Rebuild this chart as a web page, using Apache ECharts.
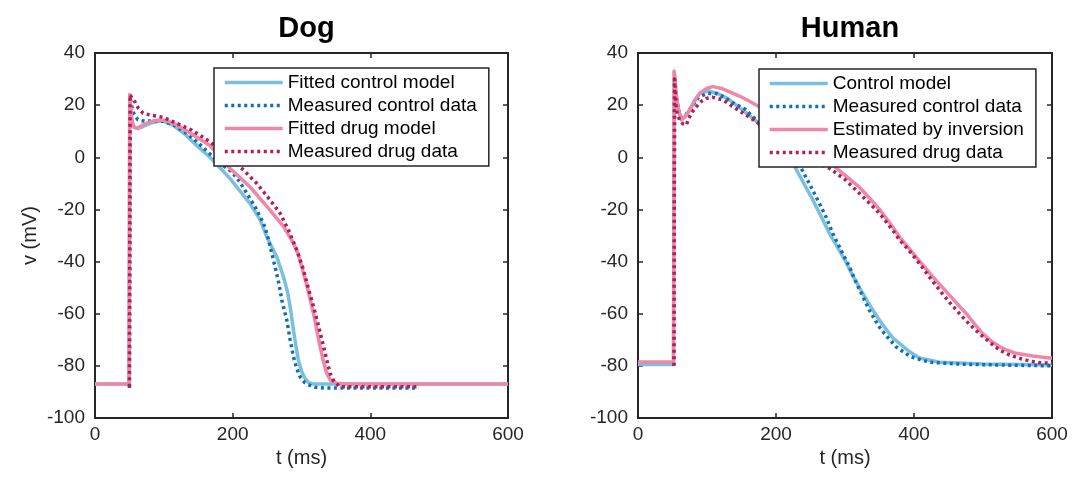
<!DOCTYPE html>
<html>
<head>
<meta charset="utf-8">
<script src="https://cdn.jsdelivr.net/npm/echarts@6/dist/echarts.min.js"></script>
<style>
  html, body { margin: 0; padding: 0; background: #fff; }
  #chart { width: 1084px; height: 477px; }
</style>
</head>
<body>
<div id="chart"></div>
<script>
// panel titles and legend labels
const panelTitles = ["Dog", "Human"];
const dogNames = ["Fitted control model", "Measured control data", "Fitted drug model", "Measured drug data"];
const humanNames = ["Control model", "Measured control data", "Estimated by inversion", "Measured drug data"];
const xTicks = [0, 200, 400, 600];
const yTicks = [-100, -80, -60, -40, -20, 0, 20, 40];

// Dog traces, [t (ms), v (mV)]
const dogFittedControl = [[0,-87],[49.5,-87],[50.5,24],[52,18],[54,13.5],[57,11.5],[62,11],[70,11.8],[80,13],[92,13.8],[100,13.8],[115,12],[130,9],[150,4],[167,0],[196,-8.1],[225,-17.7],[240,-24],[249.5,-30.5],[257,-34.5],[264,-38.1],[274,-46],[280,-52],[284.5,-59],[288.3,-66.3],[292,-72.5],[295.5,-77.8],[300,-82],[305,-84.8],[310,-86.3],[317,-87],[600,-87]];
const dogMeasuredControl = [[50,-88.5],[51,23],[53,20],[56,17],[62,14.5],[72,13.8],[85,14],[100,13.8],[115,12.3],[130,9.8],[150,5.5],[170,0.5],[185,-3],[198.6,-5.5],[210,-9.3],[220.5,-13.8],[233,-19.2],[244.7,-25.3],[250,-29.5],[254.4,-34.3],[261.6,-42],[266.5,-47.7],[272,-55.5],[278.6,-62.4],[283.5,-70],[288.3,-76.5],[293,-81],[298,-84.2],[305,-86.5],[312.5,-87.5],[320,-88.2],[335,-88.5],[470,-88.5]];
const dogFittedDrug = [[0,-87],[49.5,-87],[50.5,24],[52,18],[54,13.5],[57,11.5],[62,11.2],[72,12.8],[85,14],[95,14.3],[105,14],[120,12.3],[140,9],[167,4.5],[196,-4.2],[225,-11.3],[254,-20.2],[274,-26.6],[288.3,-33],[295,-37],[300.4,-42],[305,-46.5],[310,-51.5],[317.3,-59.8],[322,-66],[327,-72.6],[332,-78.5],[336.8,-82.9],[342,-85.5],[351.3,-86.7],[365,-87],[600,-87]];
const dogMeasuredDrug = [[50,-88],[51,24],[54,22.5],[58,21.3],[63,18.8],[70,16.9],[80,16.2],[90,15.8],[99,15.3],[114,13.6],[140,10.5],[167,6],[190,0.8],[213,-4.2],[235,-10],[254.4,-16.4],[269,-21.5],[281,-27.9],[293.2,-35.6],[302.9,-43.2],[310,-50.3],[315,-55],[320,-59.8],[326,-66],[332,-72.6],[337,-78],[341.6,-82.9],[347,-86],[356,-88],[470,-88]];

// Human traces, [t (ms), v (mV)]
const humanControlModel = [[0,-79.5],[51.5,-79.5],[52.5,33],[55,25],[58,19],[62.8,14.3],[68,15.5],[74.8,18.1],[82,21.5],[89.3,24.5],[101.4,25.5],[115,24.5],[130,22.5],[150,18.5],[171.4,13.9],[200,5],[227,-3.6],[240,-9.8],[253.4,-16.4],[265,-22.5],[277.5,-29.2],[289,-34.5],[300,-39.5],[310,-44.8],[321,-50],[333,-55.5],[345,-60.5],[354,-64],[362,-66.8],[370,-69.5],[379,-71.4],[393,-74.5],[408,-77],[437,-78.6],[500,-79.3],[600,-79.7]];
const humanMeasuredControl = [[52,-80],[53,30],[56,22],[60,17],[64,15],[70,16.5],[78,19.5],[88,23],[100,24.5],[113,24.5],[125,23],[140,20.5],[155,18.5],[171.4,14.3],[200,4.5],[220,-1],[236.5,-4.2],[250,-11],[263,-17.7],[272.7,-23],[282.3,-29.2],[294,-35.5],[306.5,-42],[316,-48],[326,-53.5],[335,-58.5],[345,-63],[352,-66],[360,-68.5],[374,-72.7],[395,-76.5],[422,-78.6],[470,-79.4],[530,-79.7],[600,-80]];
const humanEstimated = [[0,-78.5],[51.5,-78.5],[52.5,33],[55,25],[58,19],[62.8,14.5],[68,15.5],[74.8,18.1],[82,21.8],[89.3,24.5],[100,26.5],[108.6,27.1],[120,26.5],[132.8,25.1],[147,23.5],[161.7,21.5],[175,19.5],[200,14],[240,4.5],[265,0],[285,-3.6],[303,-7.5],[321,-11.5],[335,-15.5],[350,-20],[365,-25.2],[379,-30.5],[400,-37.2],[427,-45.8],[451,-52.8],[475.5,-59.9],[488,-64],[499.5,-67.6],[512,-70.5],[523.7,-72.6],[536,-74.1],[547.8,-75.2],[572,-76.2],[600,-77.1]];
const humanMeasuredDrug = [[52,-80],[53,30],[55.5,18.1],[60.3,14.3],[65,12.8],[70,12.4],[73,14.5],[77.3,16.9],[84.5,19.4],[92,21.5],[99,22.6],[108.6,23],[123,22],[137.6,19.4],[155,16.5],[175,13],[200,8],[240,0.5],[260,-2],[277.3,-4.2],[300,-8.5],[320.7,-13.8],[335,-17.5],[350,-21.5],[369,-27.9],[379,-31.7],[391,-35.2],[407.8,-40.7],[422,-45.8],[436.8,-50.9],[451,-55.5],[465.7,-59.9],[480,-64],[494.7,-67.6],[509,-70.8],[523.7,-73.9],[538,-75.8],[552.6,-77.1],[567,-78.1],[581.6,-78.8],[600,-79]];

const FONT = "'Liberation Sans', Arial, Helvetica, sans-serif";
const INK = "#262626";
const colors = ["#7bbfe0", "#1170b0", "#ef88a8", "#b21f57"];
const dotted = [3, 3.5];

const grids = [
  { left: 95, top: 53, width: 413, height: 365 },
  { left: 638, top: 53, width: 414, height: 365 }
];

function xAxisFor(g, bottom) {
  return {
    type: "value", gridIndex: g, position: bottom ? "bottom" : "top",
    min: xTicks[0], max: xTicks[xTicks.length - 1], interval: 200,
    axisLine: { show: true, onZero: false, lineStyle: { color: INK, width: 2 } },
    axisTick: { show: true, inside: true, length: 5, lineStyle: { color: INK, width: 1.5 } },
    axisLabel: { show: bottom, color: INK, fontSize: 19, fontFamily: FONT, margin: 7 },
    splitLine: { show: false },
    name: bottom ? "t (ms)" : "", nameLocation: "middle", nameGap: 28,
    nameTextStyle: { color: INK, fontSize: 20, fontFamily: FONT }
  };
}
function yAxisFor(g, left) {
  return {
    type: "value", gridIndex: g, position: left ? "left" : "right",
    min: yTicks[0], max: yTicks[yTicks.length - 1], interval: 20,
    axisLine: { show: true, onZero: false, lineStyle: { color: INK, width: 2 } },
    axisTick: { show: true, inside: true, length: 5, lineStyle: { color: INK, width: 1.5 } },
    axisLabel: { show: left, color: INK, fontSize: 19, fontFamily: FONT, margin: 10 },
    splitLine: { show: false },
    name: (left && g === 0) ? "v (mV)" : "", nameLocation: "middle", nameGap: 55,
    nameTextStyle: { color: INK, fontSize: 20, fontFamily: FONT }
  };
}

function line(name, data, idx, g, isDotted) {
  return {
    name: name, type: "line", data: data,
    xAxisIndex: g * 2, yAxisIndex: g * 2,
    symbol: "none", animation: false,
    lineStyle: { color: colors[idx], width: 3.5, type: isDotted ? dotted : "solid", cap: "butt", join: "round" },
    itemStyle: { color: colors[idx] }
  };
}

function legendFor(names, left, top) {
  return {
    data: names, orient: "vertical", left: left, top: top,
    itemWidth: 58, itemHeight: 10, itemGap: 4,
    padding: [5, 12, 5, 9],
    backgroundColor: "#fff", borderColor: INK, borderWidth: 1.5,
    selectedMode: false, z: 10,
    itemStyle: { opacity: 0, borderWidth: 0 },
    lineStyle: { width: 3.5 },
    textStyle: { color: "#000", fontSize: 19, fontFamily: FONT, lineHeight: 19 }
  };
}

const chart = echarts.init(document.getElementById("chart"));
chart.setOption({
  backgroundColor: "#fff",
  animation: false,
  title: [
    { text: panelTitles[0], left: 301.5, top: 9, textAlign: "center",
      textStyle: { color: "#000", fontSize: 29, fontWeight: "bold", fontFamily: FONT } },
    { text: panelTitles[1], left: 845, top: 9, textAlign: "center",
      textStyle: { color: "#000", fontSize: 29, fontWeight: "bold", fontFamily: FONT } }
  ],
  grid: grids,
  xAxis: [xAxisFor(0, true), xAxisFor(0, false), xAxisFor(1, true), xAxisFor(1, false)],
  yAxis: [yAxisFor(0, true), yAxisFor(0, false), yAxisFor(1, true), yAxisFor(1, false)],
  legend: [legendFor(dogNames, 214, 68), legendFor(humanNames, 759, 69)],
  series: [
    line(dogNames[0], dogFittedControl, 0, 0, false),
    line(dogNames[1], dogMeasuredControl, 1, 0, true),
    line(dogNames[2], dogFittedDrug, 2, 0, false),
    line(dogNames[3], dogMeasuredDrug, 3, 0, true),
    line(humanNames[0], humanControlModel, 0, 1, false),
    line(humanNames[1], humanMeasuredControl, 1, 1, true),
    line(humanNames[2], humanEstimated, 2, 1, false),
    line(humanNames[3], humanMeasuredDrug, 3, 1, true)
  ]
});
</script>
</body>
</html>
